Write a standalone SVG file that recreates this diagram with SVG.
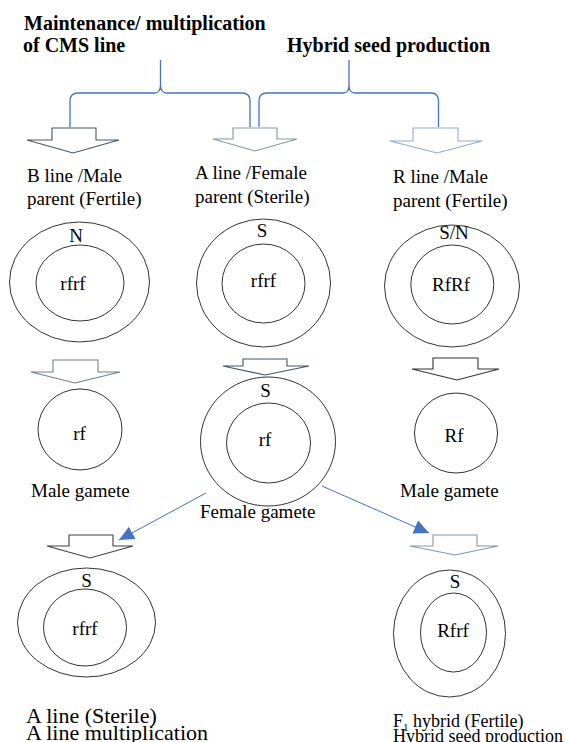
<svg xmlns="http://www.w3.org/2000/svg" width="566" height="742" viewBox="0 0 566 742">
<defs>
<style>
text{font-family:"Liberation Serif","Times New Roman",serif;fill:#000;}
.t{font-size:20px;font-weight:bold;}
.l{font-size:19px;}
.b{font-size:22px;}
.r{font-size:18px;}
.c{fill:none;stroke:#000;stroke-width:0.8;}
.ba{fill:#fff;stroke-width:1.1;}
.br{fill:none;stroke:#4472C4;stroke-width:1.3;}
.ln{stroke:#4472C4;stroke-width:1;fill:none;}
</style>
<marker id="ah" markerUnits="userSpaceOnUse" markerWidth="16" markerHeight="16" viewBox="0 0 16 16" refX="15" refY="8" orient="auto">
<path d="M0,1 L15,8 L0,15 Z" fill="#4472C4"/>
</marker>
</defs>
<g id="titles">
<text class="t" x="24" y="30">Maintenance/ multiplication</text>
<text class="t" x="23" y="52">of CMS line</text>
<text class="t" x="287" y="52">Hybrid seed production</text>
</g>
<g id="connectors">
<path class="br" d="M70,127 V101 Q70,93 78,93 H154 Q160.5,93 160.5,85 V60 M160.5,85 Q160.5,93 167,93 H242 Q250,93 250,101 V127"/>
<path class="br" d="M259,127 V101 Q259,93 267,93 H343 Q349,93 349,85 V60 M349,85 Q349,93 355,93 H431 Q438.5,93 438.5,101 V127"/>
<polygon class="ba" stroke="#44546A" points="52,128 96,128 96,140 119,140 73,153 27,140 52,140"/>
<polygon class="ba" stroke="#8497B0" points="233,128 277,128 277,139 297,139 255,151 213,139 233,139"/>
<polygon class="ba" stroke="#8FAADC" points="413,128 458,128 458,141 482,141 437,153 390,141 413,141"/>
<polygon class="ba" stroke="#6F7F96" points="53,360 98,360 98,372 120,372 75,383 31,372 53,372"/>
<polygon class="ba" stroke="#44546A" points="243,359 287,359 287,366 309,366 265,375 223,366 243,366"/>
<polygon class="ba" stroke="#333333" points="433,358 478,358 478,369 499,369 457,380 412,369 433,369"/>
<polygon class="ba" stroke="#404040" points="69,535 113,535 113,546 133,546 90,558 47,546 69,546"/>
<polygon class="ba" stroke="#8497B0" points="433,535 477,535 477,546 498,546 455,555 410,546 433,546"/>
<line class="ln" x1="206" y1="493" x2="119" y2="540" marker-end="url(#ah)"/>
<line class="ln" x1="322" y1="486" x2="429" y2="533" marker-end="url(#ah)"/>
</g>
<g id="b-line">
<text class="l" x="27" y="182">B line /Male</text>
<text class="l" x="27" y="205">parent (Fertile)</text>
<ellipse class="c" cx="79.5" cy="282" rx="70" ry="60"/>
<ellipse class="c" cx="80" cy="283" rx="44" ry="38"/>
<text class="l" x="76" y="242" text-anchor="middle">N</text>
<text class="l" x="73" y="290" text-anchor="middle">rfrf</text>
</g>
<g id="a-line">
<text class="l" x="195" y="179">A line /Female</text>
<text class="l" x="195" y="203">parent (Sterile)</text>
<ellipse class="c" cx="263.5" cy="283" rx="67" ry="64"/>
<ellipse class="c" cx="263.5" cy="283.5" rx="41.5" ry="39.5"/>
<text class="l" x="262" y="237" text-anchor="middle">S</text>
<text class="l" x="263.5" y="287" text-anchor="middle">rfrf</text>
</g>
<g id="r-line">
<text class="l" x="393" y="183">R line /Male</text>
<text class="l" x="393" y="207">parent (Fertile)</text>
<ellipse class="c" cx="452" cy="286" rx="67.5" ry="61"/>
<ellipse class="c" cx="452.3" cy="284.5" rx="41.5" ry="39.5"/>
<text class="l" x="454" y="239" text-anchor="middle">S/N</text>
<text class="l" x="451" y="291" text-anchor="middle">RfRf</text>
</g>
<g id="male-gamete-b">
<ellipse class="c" cx="80" cy="429.5" rx="42" ry="40.5"/>
<text class="l" x="79.5" y="440" text-anchor="middle">rf</text>
<text class="l" x="31" y="497">Male gamete</text>
</g>
<g id="female-gamete">
<ellipse class="c" cx="268" cy="441.5" rx="67.5" ry="64.5"/>
<ellipse class="c" cx="268.5" cy="443" rx="42" ry="40"/>
<text class="l" x="265.5" y="397" text-anchor="middle">S</text>
<text class="l" x="265" y="446" text-anchor="middle">rf</text>
<text class="l" x="200" y="518">Female gamete</text>
</g>
<g id="male-gamete-r">
<ellipse class="c" cx="456" cy="433" rx="41.5" ry="40"/>
<text class="l" x="454" y="442" text-anchor="middle">Rf</text>
<text class="l" x="400" y="497">Male gamete</text>
</g>
<g id="a-line-multiplication">
<ellipse class="c" cx="86.5" cy="622.5" rx="69" ry="54.5"/>
<ellipse class="c" cx="85" cy="627.5" rx="41.5" ry="38.5"/>
<text class="l" x="86.5" y="587" text-anchor="middle">S</text>
<text class="l" x="85" y="635" text-anchor="middle">rfrf</text>
<text class="b" x="26" y="723">A line (Sterile)</text>
<text class="b" x="26" y="740">A line multiplication</text>
</g>
<g id="f1-hybrid">
<ellipse class="c" cx="449.5" cy="633.5" rx="56" ry="63.5"/>
<ellipse class="c" cx="453.5" cy="632.5" rx="33" ry="39.5"/>
<text class="l" x="455" y="588" text-anchor="middle">S</text>
<text class="l" x="453" y="637" text-anchor="middle">Rfrf</text>
<text class="r" x="393" y="727">F<tspan font-size="11" dy="4">1</tspan><tspan dy="-4"> hybrid (Fertile)</tspan></text>
<text class="r" x="393" y="742">Hybrid seed production</text>
</g>
</svg>
